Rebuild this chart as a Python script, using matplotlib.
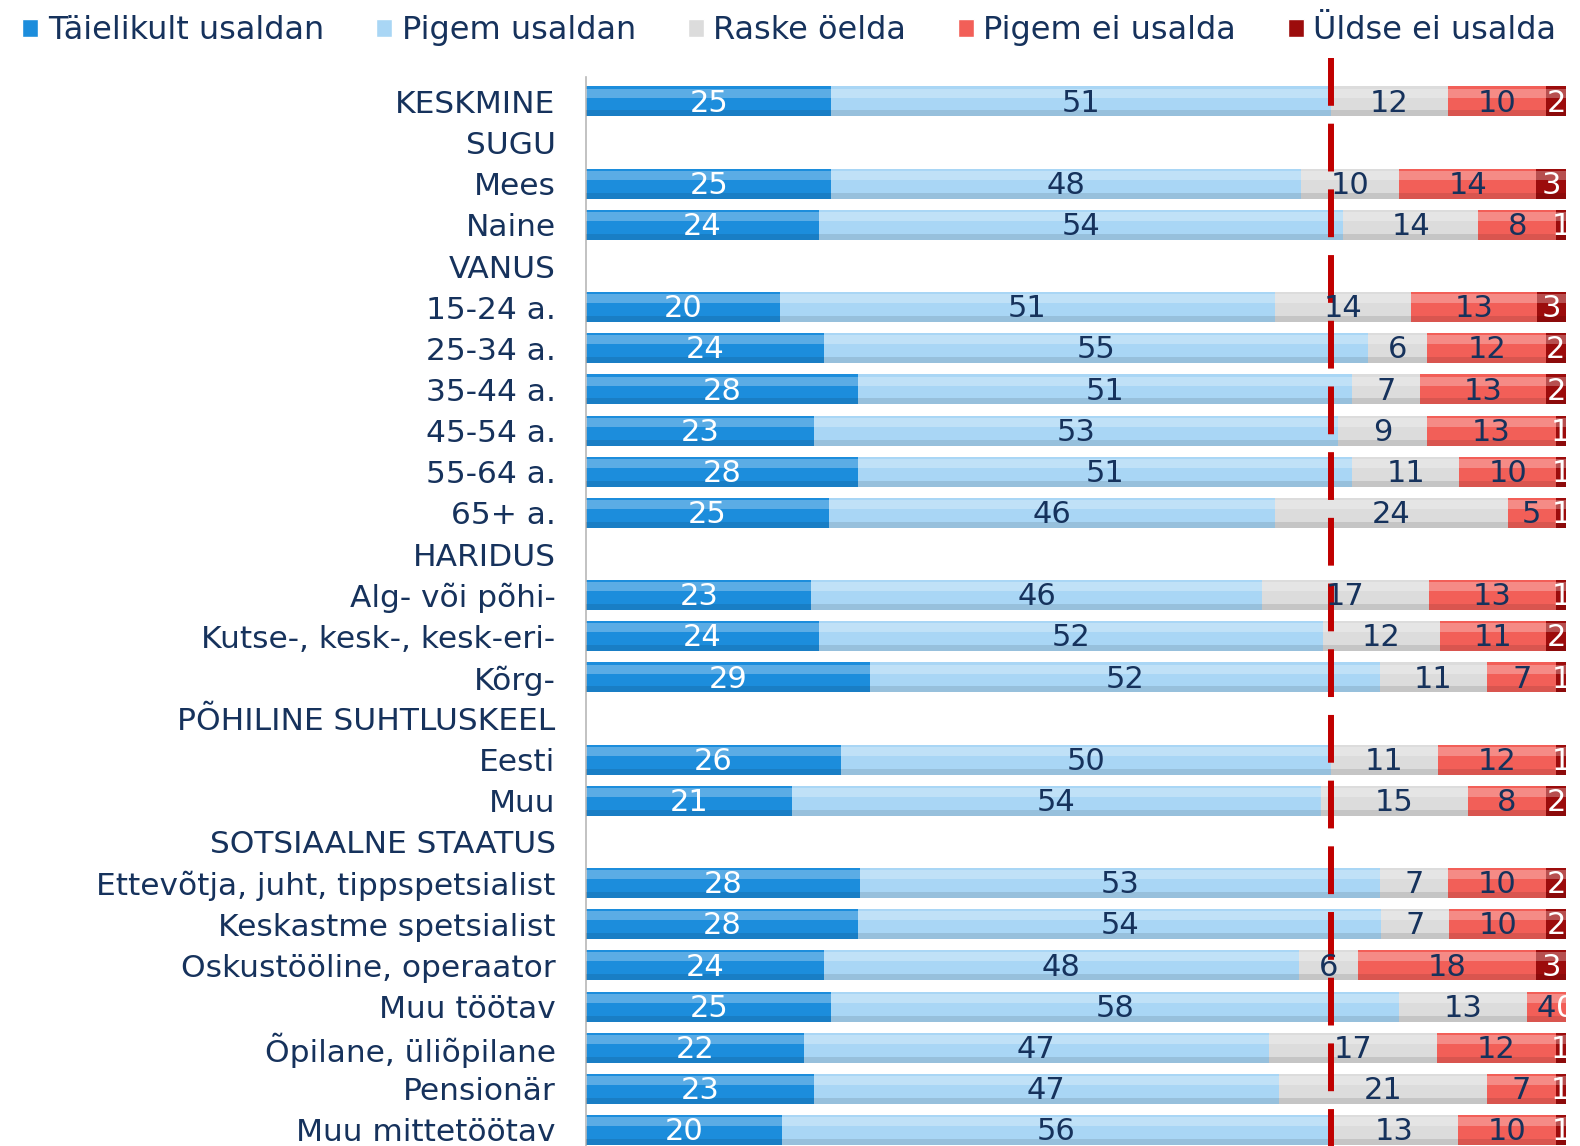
import matplotlib.pyplot as plt
from matplotlib.patches import Patch

# rows (None = section header without bar)
labels = ["KESKMINE", "SUGU", "Mees", "Naine", "VANUS", "15-24 a.", "25-34 a.",
          "35-44 a.", "45-54 a.", "55-64 a.", "65+ a.", "HARIDUS", "Alg- või põhi-",
          "Kutse-, kesk-, kesk-eri-", "Kõrg-", "PÕHILINE SUHTLUSKEEL", "Eesti", "Muu",
          "SOTSIAALNE STAATUS", "Ettevõtja, juht, tippspetsialist", "Keskastme spetsialist",
          "Oskustööline, operaator", "Muu töötav", "Õpilane, üliõpilane", "Pensionär",
          "Muu mittetöötav"]

taielikult = [25, None, 25, 24, None, 20, 24, 28, 23, 28, 25, None, 23, 24, 29, None, 26, 21, None, 28, 28, 24, 25, 22, 23, 20]
pigem      = [51, None, 48, 54, None, 51, 55, 51, 53, 51, 46, None, 46, 52, 52, None, 50, 54, None, 53, 54, 48, 58, 47, 47, 56]
raske      = [12, None, 10, 14, None, 14, 6, 7, 9, 11, 24, None, 17, 12, 11, None, 11, 15, None, 7, 7, 6, 13, 17, 21, 13]
pigem_ei   = [10, None, 14, 8, None, 13, 12, 13, 13, 10, 5, None, 13, 11, 7, None, 12, 8, None, 10, 10, 18, 4, 12, 7, 10]
uldse_ei   = [2, None, 3, 1, None, 3, 2, 2, 1, 1, 1, None, 1, 2, 1, None, 1, 2, None, 2, 2, 3, 0, 1, 1, 1]

series = ["Täielikult usaldan", "Pigem usaldan", "Raske öelda", "Pigem ei usalda", "Üldse ei usalda"]
colors = ["#1c8ddc", "#a9d6f5", "#dcdcdc", "#f25f58", "#9c0c0c"]
text_colors = ["white", "#16325c", "#16325c", "#16325c", "white"]
average_line = 76

navy = "#16325c"
plt.rcParams['font.family'] = ['DejaVu Sans']

fig = plt.figure(figsize=(15.8, 11.46), dpi=100)
ax = fig.add_axes([0.371, 0.0, 0.620, 0.933])

data = [taielikult, pigem, raske, pigem_ei, uldse_ei]
ypos = list(range(len(labels)))
bar_h = 0.73

for i, y in enumerate(ypos):
    if taielikult[i] is None:
        continue
    total = sum(vals[i] for vals in data)
    left = 0
    for s, vals in enumerate(data):
        v = vals[i]
        w = v * 100 / total  # rounded shares are stretched to fill 100 %
        ax.barh(y, w, left=left, height=bar_h, color=colors[s], edgecolor="none", zorder=2)
        # glossy highlight on the upper part of the bar
        ax.barh(y - bar_h * 0.28, w, left=left, height=bar_h * 0.3, color="white",
                alpha=0.28, edgecolor="none", zorder=3)
        # darker shade on the lower edge
        ax.barh(y + bar_h * 0.4, w, left=left, height=bar_h * 0.2, color="black",
                alpha=0.1, edgecolor="none", zorder=3)
        ax.text(left + w / 2, y + 0.04, str(v), ha="center", va="center",
                fontsize=22, color=text_colors[s], zorder=5, clip_on=False)
        left += w

ax.set_xlim(0, 100)
ax.set_ylim(25.39, -0.6)
ax.set_yticks(ypos)
ax.set_yticklabels(labels, fontsize=22.5, color=navy)
ax.tick_params(axis="y", length=0, pad=22)
ax.set_xticks([])
for sp in ["top", "right", "bottom"]:
    ax.spines[sp].set_visible(False)
ax.spines["left"].set_color("#b8b8b8")
ax.spines["left"].set_linewidth(1.2)

# dashed average line
ax.plot([average_line, average_line], [-1.05, 25.4], color="#c00000", lw=4.3,
        dashes=(8, 3), zorder=4, clip_on=False, solid_capstyle="butt", dash_capstyle="butt")

handles = [Patch(facecolor=c, edgecolor="white") for c in colors]
fig.legend(handles, series, loc="upper left", bbox_to_anchor=(-0.004, 1.012), ncol=5,
           frameon=False, fontsize=23, handlelength=0.5, handleheight=0.5,
           handletextpad=0.3, columnspacing=1.62, labelcolor=navy)

plt.savefig("out.png", dpi=100)
